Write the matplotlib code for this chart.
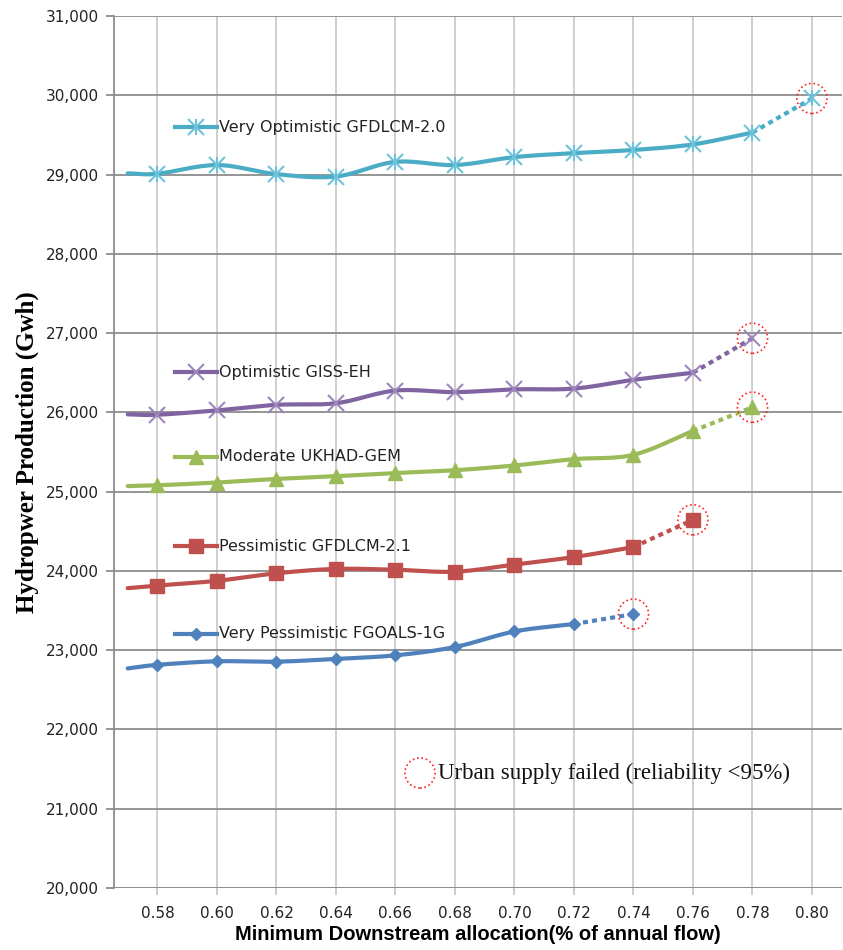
import numpy as np
import matplotlib
matplotlib.use("Agg")
import matplotlib.pyplot as plt
from matplotlib.lines import Line2D

# Minimum downstream allocation (fraction of annual flow)
alloc = [0.57, 0.58, 0.60, 0.62, 0.64, 0.66, 0.68, 0.70, 0.72, 0.74, 0.76, 0.78, 0.80]

# Hydropower production (GWh) per climate scenario
very_optimistic = [29015, 29010, 29120, 29005, 28975, 29160, 29120, 29220, 29270, 29310, 29380, 29530, 29960]
optimistic = [25975, 25970, 26025, 26095, 26115, 26275, 26255, 26290, 26300, 26410, 26500, 26935]
moderate = [25070, 25080, 25115, 25160, 25195, 25235, 25270, 25330, 25410, 25465, 25765, 26065]
pessimistic = [23782, 23815, 23875, 23970, 24025, 24015, 23990, 24080, 24175, 24300, 24645]
very_pessimistic = [22770, 22815, 22860, 22855, 22890, 22935, 23040, 23236, 23330, 23455]

names = ["Very Optimistic GFDLCM-2.0", "Optimistic GISS-EH", "Moderate UKHAD-GEM",
         "Pessimistic GFDLCM-2.1", "Very Pessimistic FGOALS-1G"]

yticks = list(range(20000, 31001, 1000))
xticks = [0.58, 0.60, 0.62, 0.64, 0.66, 0.68, 0.70, 0.72, 0.74, 0.76, 0.78, 0.80]

fail_label = "Urban supply failed (reliability <95%)"

# style per series: color, marker, marker size, marker colour, legend row (axes fraction)
styles = [
    dict(c="#4BACC6", m="x", ms=12, mc="#6EC3DA", extra="|", ly=0.8727),
    dict(c="#8064A2", m="x", ms=12, mc="#9C86BC", extra=None, ly=0.5917),
    dict(c="#9BBB59", m="^", ms=10, mc="#9BBB59", extra=None, ly=0.4943),
    dict(c="#C0504D", m="s", ms=9.5, mc="#C0504D", extra=None, ly=0.3922),
    dict(c="#4F81BD", m="D", ms=6.5, mc="#4F81BD", extra=None, ly=0.2913),
]


def smooth(x, y, n=16):
    # Catmull-Rom curve through the points, like Excel's smoothed line
    x = np.asarray(x, float)
    y = np.asarray(y, float)
    px = np.concatenate([[2 * x[0] - x[1]], x, [2 * x[-1] - x[-2]]])
    py = np.concatenate([[2 * y[0] - y[1]], y, [2 * y[-1] - y[-2]]])
    xs, ys = [], []
    t = np.linspace(0, 1, n, endpoint=False)
    for i in range(1, len(px) - 2):
        for p, out in ((px, xs), (py, ys)):
            p0, p1, p2, p3 = p[i - 1], p[i], p[i + 1], p[i + 2]
            out.extend(0.5 * (2 * p1 + (-p0 + p2) * t + (2 * p0 - 5 * p1 + 4 * p2 - p3) * t ** 2
                              + (-p0 + 3 * p1 - 3 * p2 + p3) * t ** 3))
    xs.append(x[-1])
    ys.append(y[-1])
    return xs, ys


fig = plt.figure(figsize=(8.43, 9.5), dpi=100)
ax = fig.add_axes([114 / 843, 62 / 950, 728 / 843, 872 / 950])

ax.set_xlim(0.5654, 0.8101)
ax.set_ylim(20000, 31000)

series = [very_optimistic, optimistic, moderate, pessimistic, very_pessimistic]
for vals, st in zip(series, styles):
    xs = alloc[:len(vals)]
    # solid smoothed part up to the last feasible allocation
    sx, sy = smooth(xs[:-1], vals[:-1])
    ax.plot(sx, sy, color=st["c"], lw=3, solid_capstyle="round", zorder=3)
    # dotted step to the failed allocation
    ax.plot(xs[-2:], vals[-2:], color=st["c"], lw=3, linestyle=(0, (1.2, 1.0)), zorder=3)
    # markers (no marker on the first point)
    mew = 1.5 if st["m"] in ("x", "|") else 1
    ax.plot(xs[1:], vals[1:], linestyle="none", marker=st["m"], ms=st["ms"],
            color=st["mc"], mec=st["mc"], mew=mew, zorder=4)
    if st["extra"]:
        ax.plot(xs[1:], vals[1:], linestyle="none", marker=st["extra"], ms=st["ms"],
                color=st["mc"], mew=1.5, zorder=4)
    # red dotted ring round the failed point
    ax.scatter([xs[-1]], [vals[-1]], s=470, facecolors="none", edgecolors="#FF2020",
               linewidths=1.2, linestyles=":", zorder=5)

# inline legend entries
for name, st in zip(names, styles):
    ax.add_line(Line2D([0.0838, 0.1415], [st["ly"], st["ly"]], transform=ax.transAxes,
                       color=st["c"], lw=3, zorder=4))
    ax.add_line(Line2D([0.1127], [st["ly"]], transform=ax.transAxes, marker=st["m"],
                       ms=st["ms"], color=st["mc"], mec=st["mc"],
                       mew=1.5 if st["m"] == "x" else 1, linestyle="none", zorder=4))
    if st["extra"]:
        ax.add_line(Line2D([0.1127], [st["ly"]], transform=ax.transAxes, marker=st["extra"],
                           ms=st["ms"], color=st["mc"], mew=1.5, linestyle="none", zorder=4))
    ax.text(0.1442, st["ly"], name, transform=ax.transAxes, fontsize=11.5,
            family="DejaVu Sans", color="#222222", va="center", ha="left")

# note for the failed points
ax.scatter([0.4203], [0.1319], s=470, facecolors="none", edgecolors="#FF2020",
           linewidths=1.2, linestyles=":", transform=ax.transAxes, clip_on=False)
ax.text(0.445, 0.1319, fail_label, transform=ax.transAxes, fontsize=16.5,
        family="Liberation Serif", color="#111111", va="center", ha="left")

# grid and axes
ax.set_yticks(yticks)
ax.set_yticklabels([f"{v:,}" for v in yticks])
ax.set_xticks(xticks)
ax.set_xticklabels([f"{v:.2f}" for v in xticks])
ax.yaxis.grid(True, color="#8C8C8C", lw=1.3)
ax.xaxis.grid(True, color="#CBCBCB", lw=1.3)
ax.set_axisbelow(True)
for side in ("top", "right", "bottom"):
    ax.spines[side].set_visible(False)
ax.spines["left"].set_color("#8C8C8C")
ax.spines["left"].set_linewidth(1.3)
ax.tick_params(axis="y", direction="out", length=6, width=1.3, color="#8C8C8C",
               labelsize=11, labelcolor="#222222", pad=5)
ax.tick_params(axis="x", direction="out", length=5, width=1.3, color="#C8C8C8",
               labelsize=11, labelcolor="#222222", pad=8)
ax.axhline(20000, color="#8C8C8C", lw=1.3, zorder=1)

ax.set_xlabel("Minimum Downstream allocation(% of annual flow)", fontsize=14.5,
              fontweight="bold", family="Liberation Sans", labelpad=3)
ax.set_ylabel("Hydropwer Production (Gwh)", fontsize=18, fontweight="bold",
              family="Liberation Serif", labelpad=5)

fig.savefig("out.png", dpi=100)
